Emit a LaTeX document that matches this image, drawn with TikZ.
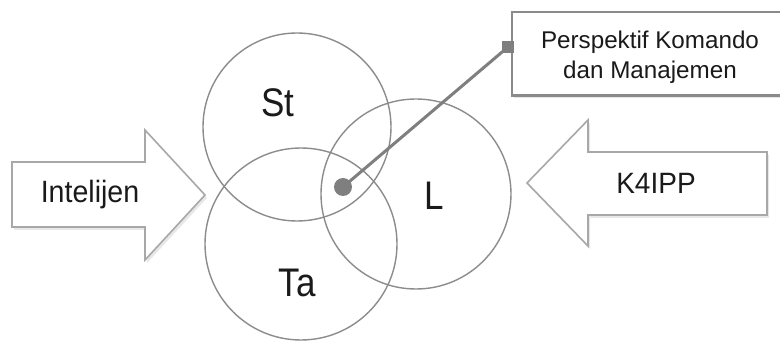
\documentclass[tikz,border=0pt]{standalone}
\usepackage{fontspec}
\setmainfont{Liberation Sans}
\usetikzlibrary{shadows}
\definecolor{ringgray}{HTML}{8C8C8C}
\definecolor{arrowgray}{HTML}{A8A8A8}
\definecolor{boxgray}{HTML}{8A8A8A}
\definecolor{dotgray}{HTML}{7F7F7F}
\definecolor{textgray}{HTML}{1A1A1A}
\tikzset{
  ring/.style={circle, draw=ringgray, line width=1.4pt, inner sep=0pt, minimum size=#1},
  bigarrow/.style={draw=arrowgray, line width=1.6pt, fill=white, line join=miter,
    drop shadow={shadow xshift=2pt, shadow yshift=-3pt, opacity=0.18, fill=gray}},
  setlabel/.style={font=\fontsize{35}{40}\selectfont, inner sep=0pt, text=textgray},
  arrowlabel/.style={font=\fontsize{28}{32}\selectfont, inner sep=0pt, text=textgray},
  infobox/.style={fill=white, inner sep=0pt,
    minimum width=300pt, minimum height=83pt,
    drop shadow={shadow xshift=2pt, shadow yshift=-3pt, opacity=0.2, fill=gray}},
  boxedge/.style={draw=boxgray, line width=2.6pt, line join=miter},
  boxtext/.style={font=\fontsize{24.2}{30}\selectfont, align=center, inner sep=0pt, text=textgray},
}
\begin{document}
\begin{tikzpicture}[x=1pt,y=-1pt]
\useasboundingbox (0,0) rectangle (780,347);
\fill[white] (0,0) rectangle (780,347);
% side arrows
\draw[bigarrow] (12,162) -- (145,162) -- (145,130) -- (205,195) -- (145,260) -- (145,227) -- (12,227) -- cycle;
\draw[bigarrow] (767,152) -- (588,152) -- (588,120) -- (527,183) -- (588,246) -- (588,215) -- (767,215) -- cycle;
\node[arrowlabel] (intel) at (90,195) {\scalebox{1.02}[1.1]{Intelijen}};
\node[arrowlabel] (k4ipp) at (656,183) {\scalebox{1}[1.05]{K4IPP}};
% circles
\node[ring=188pt] (st) at (297,127) {};
\node[ring=192pt] (ta) at (301,244) {};
\node[ring=190pt] (l) at (416,194) {};
\node[setlabel] (stl) at (278,103) {\scalebox{1}[1.14]{St}};
\node[setlabel] (ll) at (434,196) {\scalebox{1}[1.14]{L}};
\node[setlabel] (tal) at (297,283) {\scalebox{1}[1.14]{Ta}};
% box (runs past the right margin)
\begin{scope}
\clip (0,0) rectangle (780,347);
\node[infobox, anchor=north west] (box) at (512,12) {};
\draw[boxedge] (box.north east) -- (box.north west) -- (box.south west) -- (box.south east);
\end{scope}
\node[boxtext] (boxt) at (650,57) {Perspektif Komando\\dan Manajemen};
% connector
\node[circle, fill=dotgray, inner sep=0pt, minimum size=18pt] (dot) at (343,187) {};
\coordinate (sq) at (box.west |- 0,47);
\draw[dotgray, line width=3pt] (dot.center) -- ([xshift=-4pt]sq);
\node[fill=dotgray, inner sep=0pt, minimum size=12pt] (sqn) at ([xshift=-4pt]sq) {};
\end{tikzpicture}
\end{document}
